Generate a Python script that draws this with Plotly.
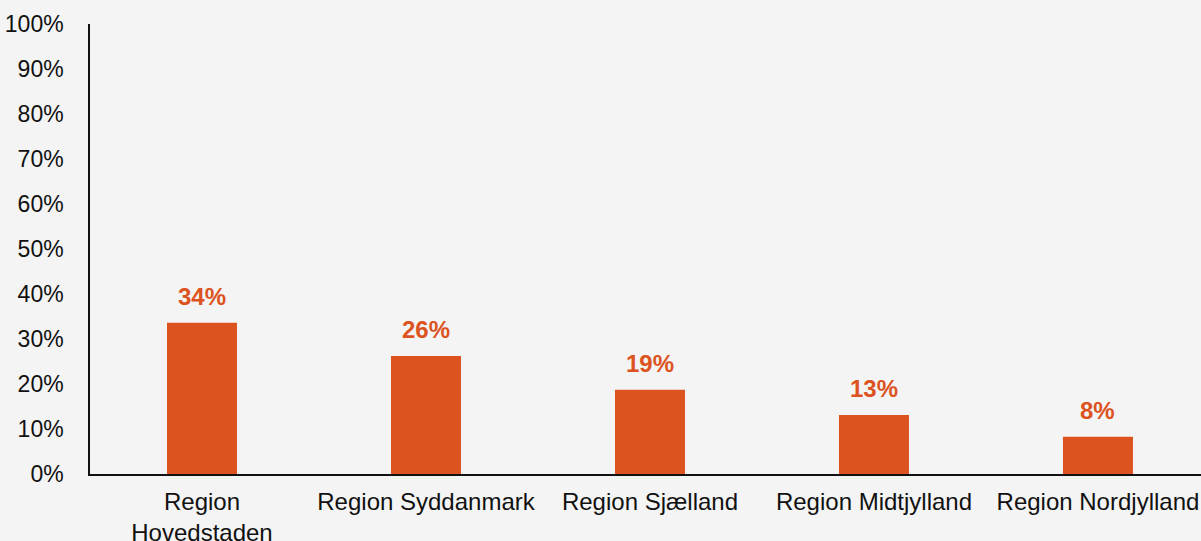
import plotly.graph_objects as go

categories = ["Region<br>Hovedstaden", "Region Syddanmark", "Region Sjælland", "Region Midtjylland", "Region Nordjylland"]
values = [0.336, 0.262, 0.187, 0.131, 0.083]
labels = ["34%", "26%", "19%", "13%", "8%"]

BAR = "#DC531F"
BG = "#F4F4F4"
FONT = "Liberation Sans, Arial, sans-serif"

fig = go.Figure()
fig.add_trace(go.Bar(x=categories, y=values, marker=dict(color=BAR, line=dict(width=0)),
                     hoverinfo="skip"))

for c, v, t in zip(categories, values, labels):
    fig.add_annotation(x=c, y=v, text=f"<b>{t}</b>", showarrow=False, yanchor="bottom",
                       yshift=11, font=dict(family=FONT, size=24, color=BAR))

fig.update_layout(
    width=1201, height=541,
    margin=dict(l=90, r=0, t=24, b=67),
    paper_bgcolor=BG, plot_bgcolor=BG,
    showlegend=False,
    bargap=0.6875,
    font=dict(family=FONT, size=22, color="#111111"),
)
fig.update_xaxes(range=[-0.5, 4.46], showline=True, linecolor="#111111", linewidth=2,
                 ticks="", showgrid=False, zeroline=False, ticklabelstandoff=5,
                 tickfont=dict(size=24), automargin=False)
fig.update_yaxes(range=[0, 1], dtick=0.1, tickformat=".0%", showline=True, linecolor="#111111",
                 linewidth=1.5, ticks="", showgrid=False, zeroline=False, ticklabelstandoff=20,
                 tickfont=dict(size=23), automargin=False)

fig.write_html("out.html", config={"displayModeBar": False},
               post_script="document.body.style.margin='0';document.body.style.background='#F4F4F4';")
